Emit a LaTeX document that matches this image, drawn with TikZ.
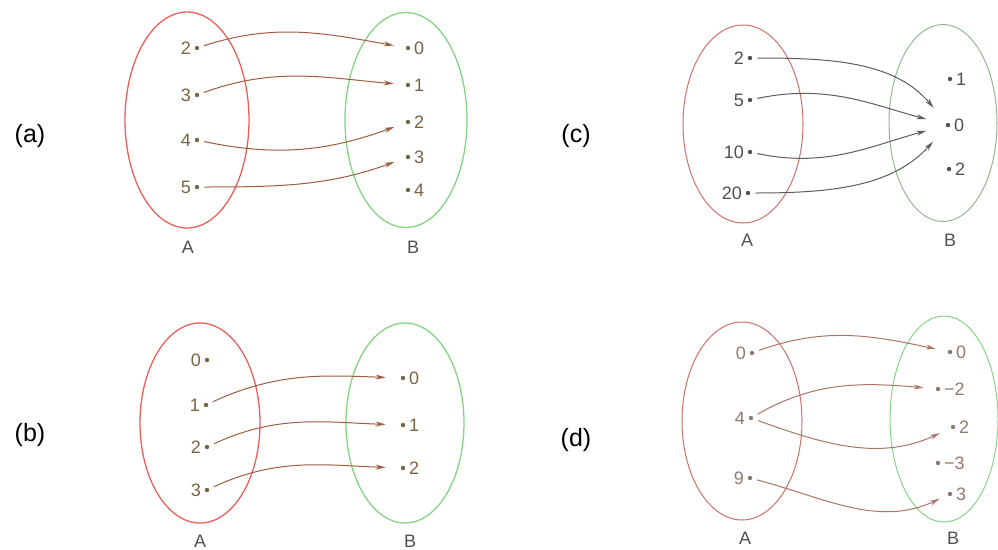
\documentclass[tikz,border=0pt]{standalone}
\usepackage{fontspec}
\setmainfont{Liberation Sans}
\usetikzlibrary{arrows.meta,shapes.geometric}
\definecolor{setred}{RGB}{232,96,92}
\definecolor{setredpale}{RGB}{205,112,104}
\definecolor{setgreen}{RGB}{132,212,132}
\definecolor{setgreengray}{RGB}{150,180,148}
\definecolor{maparrow}{RGB}{158,92,62}
\definecolor{maparrowgray}{RGB}{92,92,92}
\definecolor{maparrowpale}{RGB}{172,116,104}
\definecolor{numbrown}{RGB}{118,100,66}
\definecolor{numgray}{RGB}{80,80,80}
\definecolor{numpale}{RGB}{140,122,112}
\begin{document}
\begin{tikzpicture}[x=1pt,y=-1pt, every node/.style={font=\fontsize{18}{20}\selectfont},
  setA/.style={draw=setred,line width=1.3pt,ellipse,inner sep=0pt},
  setB/.style={draw=setgreen,line width=1.3pt,ellipse,inner sep=0pt},
  elem/.style={circle,fill=numbrown,inner sep=0pt,minimum size=4.4pt},
  numL/.style={text=numbrown,inner sep=0pt,xshift=-3.5pt},
  numR/.style={text=numbrown,inner sep=0pt,xshift=3.5pt},
  setname/.style={text=numgray,font=\fontsize{18}{20}\selectfont},
  tag/.style={font=\fontsize{25}{28}\selectfont},
  map/.style={-{Stealth[length=10pt,width=5pt]},draw=maparrow,line width=1pt,shorten <=5pt,shorten >=12pt}]
\useasboundingbox (0,0) rectangle (998,549);
% (a)
\node[tag] (taga) at (30,136) {(a)};
\node[setA,minimum width=124pt,minimum height=216pt] (aA) at (187,120) {};
\node[setB,minimum width=122pt,minimum height=215pt] (aB) at (406,120) {};
\node[elem,label={[numL]left:2}] (aA2) at (197,48) {};
\node[elem,label={[numL]left:3}] (aA3) at (197,95) {};
\node[elem,label={[numL]left:4}] (aA4) at (197,140) {};
\node[elem,label={[numL]left:5}] (aA5) at (197,187) {};
\node[elem,label={[numR]right:0}] (aB0) at (408,48) {};
\node[elem,label={[numR]right:1}] (aB1) at (408,85) {};
\node[elem,label={[numR]right:2}] (aB2) at (408,122) {};
\node[elem,label={[numR]right:3}] (aB3) at (408,157) {};
\node[elem,label={[numR]right:4}] (aB4) at (408,190) {};
\draw[map] (aA2) to[out=18,in=170] (aB0);
\draw[map] (aA3) to[out=20,in=175] (aB1);
\draw[map] (aA4) to[out=-12,in=200] (aB2);
\draw[map] (aA5) to[out=0,in=200] (aB3);
\node[setname] (aAname) at (188,247) {A};
\node[setname] (aBname) at (413,247) {B};
% (b)
\node[tag] (tagb) at (30,435) {(b)};
\node[setA,minimum width=120pt,minimum height=200pt] (bA) at (200,423) {};
\node[setB,minimum width=118pt,minimum height=200pt] (bB) at (405,423) {};
\node[elem,label={[numL]left:0}] (bA0) at (207,360) {};
\node[elem,label={[numL]left:1}] (bA1) at (206,405) {};
\node[elem,label={[numL]left:2}] (bA2) at (207,447) {};
\node[elem,label={[numL]left:3}] (bA3) at (207,490) {};
\node[elem,label={[numR]right:0}] (bB0) at (403,378) {};
\node[elem,label={[numR]right:1}] (bB1) at (403,425) {};
\node[elem,label={[numR]right:2}] (bB2) at (403,468) {};
\draw[map,shorten >=15pt] (bA1) to[out=25,in=178] (bB0);
\draw[map,shorten >=15pt] (bA2) to[out=25,in=178] (bB1);
\draw[map,shorten >=15pt] (bA3) to[out=25,in=178] (bB2);
\node[setname] (bAname) at (200,541) {A};
\node[setname] (bBname) at (410,541) {B};
% (c)
\node[tag] (tagc) at (576,136) {(c)};
\node[setA,draw=setredpale,line width=1pt,minimum width=120pt,minimum height=198pt] (cA) at (743,124) {};
\node[setB,draw=setgreengray,line width=1pt,minimum width=108pt,minimum height=197pt] (cB) at (943,123) {};
\node[elem,fill=numgray,label={[numL,text=numgray]left:2}] (cA2) at (750,58) {};
\node[elem,fill=numgray,label={[numL,text=numgray]left:5}] (cA5) at (750,100) {};
\node[elem,fill=numgray,label={[numL,text=numgray]left:10}] (cA10) at (750,152) {};
\node[elem,fill=numgray,label={[numL,text=numgray]left:20}] (cA20) at (748,193) {};
\node[elem,fill=numgray,label={[numR,text=numgray]right:1}] (cB1) at (950,79) {};
\node[elem,fill=numgray,label={[numR,text=numgray]right:0}] (cB0) at (948,125) {};
\node[elem,fill=numgray,label={[numR,text=numgray]right:2}] (cB2) at (949,169) {};
\draw[map,draw=maparrowgray,shorten >=20pt] (cA2) to[out=0,in=130] (cB0);
\draw[map,draw=maparrowgray,shorten >=20pt] (cA5) to[out=12,in=165] (cB0);
\draw[map,draw=maparrowgray,shorten >=20pt] (cA10) to[out=-12,in=195] (cB0);
\draw[map,draw=maparrowgray,shorten >=20pt] (cA20) to[out=0,in=228] (cB0);
\node[setname] (cAname) at (747,240) {A};
\node[setname] (cBname) at (950,240) {B};
% (d)
\node[tag] (tagd) at (576,440) {(d)};
\node[setA,draw=setredpale,line width=1pt,minimum width=120pt,minimum height=198pt] (dA) at (742,421) {};
\node[setB,line width=1pt,minimum width=108pt,minimum height=206pt] (dB) at (944,419) {};
\node[elem,fill=numpale,label={[numL,text=numpale]left:0}] (dA0) at (752,353) {};
\node[elem,fill=numpale,label={[numL,text=numpale]left:4}] (dA4) at (751,418) {};
\node[elem,fill=numpale,label={[numL,text=numpale]left:9}] (dA9) at (750,478) {};
\node[elem,fill=numpale,label={[numR,text=numpale]right:0}] (dB0) at (950,352) {};
\node[elem,fill=numpale,label={[numR,text=numpale]right:−2}] (dBm2) at (938,389) {};
\node[elem,fill=numpale,label={[numR,text=numpale]right:2}] (dB2) at (953,427) {};
\node[elem,fill=numpale,label={[numR,text=numpale]right:−3}] (dBm3) at (938,463) {};
\node[elem,fill=numpale,label={[numR,text=numpale]right:3}] (dB3) at (950,494) {};
\draw[map,draw=maparrowpale] (dA0) to[out=20,in=168] (dB0);
\draw[map,draw=maparrowpale] (dA4) to[out=30,in=175] (dBm2);
\draw[map,draw=maparrowpale] (dA4) to[out=-20,in=205] (dB2);
\draw[map,draw=maparrowpale,shorten >=9pt] (dA9) to[out=-15,in=205] (dB3);
\node[setname] (dAname) at (745,538) {A};
\node[setname] (dBname) at (953,538) {B};
\end{tikzpicture}
\end{document}
